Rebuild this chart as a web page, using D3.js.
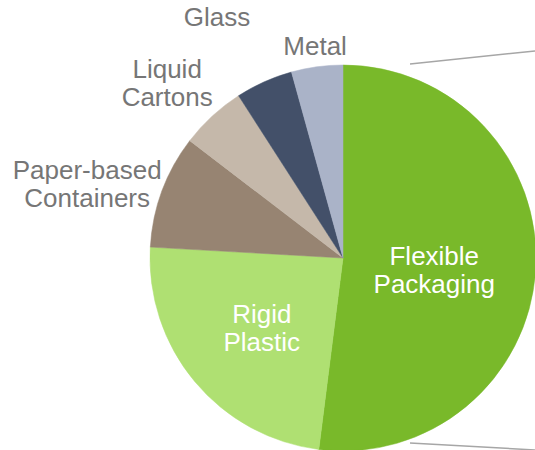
<!DOCTYPE html>
<html>
<head>
<meta charset="utf-8">
<script src="https://cdn.jsdelivr.net/npm/d3@7"></script>
<style>
  html, body { margin: 0; padding: 0; background: #fff; }
  svg { display: block; }
  text { font-family: "Liberation Sans", Arial, sans-serif; }
</style>
</head>
<body>
<svg id="chart" width="535" height="450"></svg>
<script>
// ---- data ----
const categories = ["Flexible Packaging", "Rigid Plastic", "Paper-based Containers", "Liquid Cartons", "Glass", "Metal"];
const labelLines = [["Flexible", "Packaging"], ["Rigid", "Plastic"], ["Paper-based", "Containers"], ["Liquid", "Cartons"], ["Glass"], ["Metal"]];
const shares = [52.0, 23.9, 9.5, 5.5, 4.8, 4.3];

// ---- styling / layout ----
const colors = ["#79b92a", "#afe072", "#978472", "#c5b8aa", "#435069", "#aab3c8"];
const inside = [true, true, false, false, false, false];
// label placement: [radius factor, angle offset (deg) from slice mid-angle]
const labelPlace = [[0.477, 3.9], [0.556, -1.0], [1.38, -4.2], [1.285, -2.5], [1.41, -3.45], [1.11, 0.25]];

const W = 535, H = 450;
const cx = 343, cy = 258, R = 193;
const fs = 26, lh = 28.5;

const svg = d3.select("#chart");
const g = svg.append("g").attr("transform", `translate(${cx},${cy})`);

const data = categories.map((c, i) => ({ name: c, value: shares[i], i }));
const pie = d3.pie().value(d => d.value).sort(null).startAngle(0).endAngle(2 * Math.PI);
const arcs = pie(data);
const arc = d3.arc().innerRadius(0).outerRadius(R);

g.selectAll("path.slice").data(arcs).join("path")
  .attr("class", "slice")
  .attr("d", arc)
  .attr("fill", d => colors[d.data.i])
  .attr("stroke", d => colors[d.data.i])
  .attr("stroke-width", 0.5);

// connector lines toward the (off-canvas) secondary plot
const connLines = [
  [[cx + 67, cy - 194], [W, cy - 207]],
  [[cx + 67, cy + 185], [W, cy + 192]]
];
svg.selectAll("line.conn").data(connLines).join("line")
  .attr("class", "conn")
  .attr("x1", d => d[0][0]).attr("y1", d => d[0][1])
  .attr("x2", d => d[1][0]).attr("y2", d => d[1][1])
  .attr("stroke", "#a6a6a6").attr("stroke-width", 1.5);

// labels
g.selectAll("text.lbl").data(arcs).join("text")
  .attr("class", "lbl")
  .attr("text-anchor", "middle")
  .attr("font-size", fs)
  .attr("fill", d => inside[d.data.i] ? "#ffffff" : "#767676")
  .each(function(d) {
    const p = labelPlace[d.data.i];
    const a = (d.startAngle + d.endAngle) / 2 + p[1] * Math.PI / 180;
    const r = R * p[0];
    const x = r * Math.sin(a), y = -r * Math.cos(a);
    const lines = labelLines[d.data.i];
    const b0 = y - (lines.length - 1) * lh / 2 + 0.35 * fs;
    d3.select(this).selectAll("tspan").data(lines).join("tspan")
      .attr("x", x)
      .attr("y", (t, k) => b0 + k * lh)
      .text(t => t);
  });
</script>
</body>
</html>
